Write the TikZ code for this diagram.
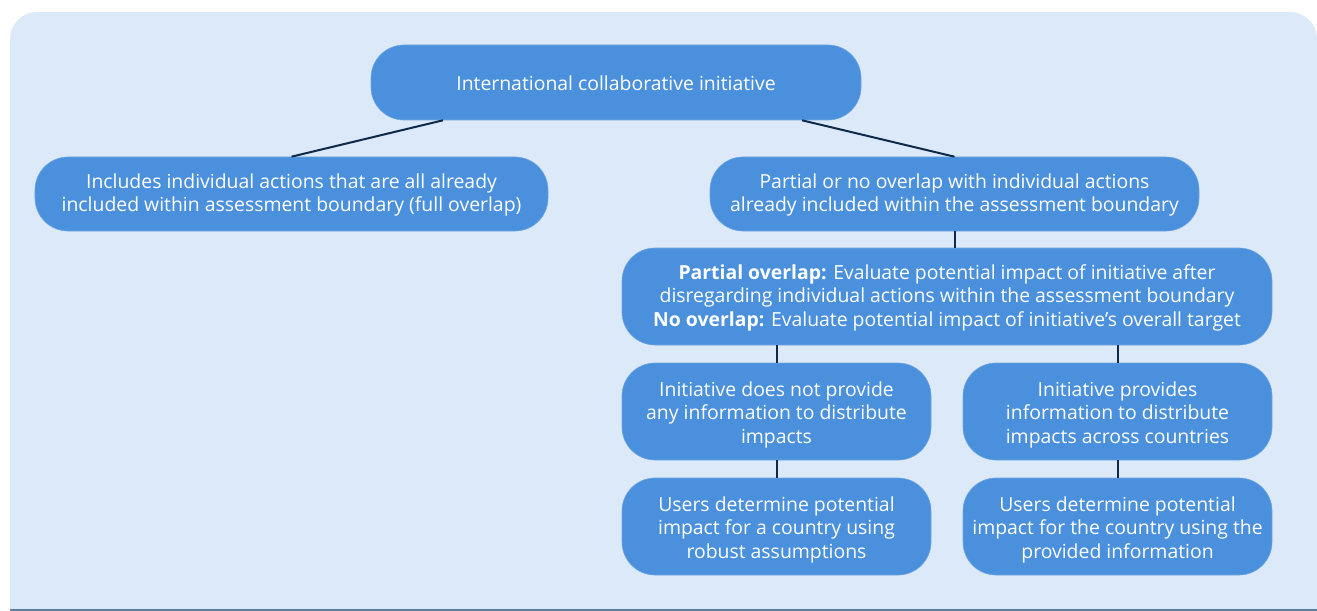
\documentclass[tikz,border=0pt]{standalone}
\usepackage{fontspec}
\setmainfont{Open Sans}
\usetikzlibrary{calc}
\definecolor{panel}{HTML}{DCE9F8}
\definecolor{boxfill}{HTML}{4A90DC}
\definecolor{boxedge}{HTML}{6FA6E4}
\definecolor{linkcol}{HTML}{0E2A4A}
\definecolor{rulecol}{HTML}{5B7FA5}
% invisible struts fixing the first-line height and last-line depth
\newcommand\topstrut[1]{\rule{0pt}{#1}}
\newcommand\botstrut{\rule[-4bp]{0pt}{4bp}}
\begin{document}
\begin{tikzpicture}[x=1bp,y=-1bp,
  stepbox/.style={fill=boxfill, draw=boxedge, line width=0.6bp,
    rounded corners=33bp, text=white, align=center, inner sep=0pt,
    font=\fontsize{19.4bp}{23.5bp}\selectfont},
  link/.style={draw=linkcol, line width=2bp}]
\useasboundingbox (0,0) rectangle (1317,611);
% panel with rounded top corners
\begin{scope}
  \clip (0,0) rectangle (1317,608.5);
  \fill[panel, rounded corners=27bp] (10,12) rectangle (1317,660);
\end{scope}
\draw[rulecol, line width=2bp] (10,609.5) -- (1317,609.5);

% nodes
\node[stepbox, minimum width=490bp, minimum height=75bp] (top) at (616,82.5)
  {\topstrut{20bp}International collaborative initiative\botstrut};
\node[stepbox, minimum width=513bp, minimum height=74bp] (full) at (291.5,194)
  {\topstrut{17bp}Includes individual actions that are all already\\included within assessment boundary (full overlap)\botstrut};
\node[stepbox, minimum width=489bp, minimum height=74bp] (part) at (954.5,194)
  {\topstrut{17bp}Partial or no overlap with individual actions\\already included within the assessment boundary\botstrut};
\node[stepbox, minimum width=650bp, minimum height=97bp] (eval) at (947,296.5)
  {\topstrut{17bp}\textbf{Partial overlap:} Evaluate potential impact of initiative after\\disregarding individual actions within the assessment boundary\\\textbf{No overlap:} Evaluate potential impact of initiative’s overall target\botstrut};
\node[stepbox, minimum width=309bp, minimum height=97bp] (noinfo) at (776.5,411.5)
  {\topstrut{21bp}Initiative does not provide\\any information to distribute\\impacts\botstrut};
\node[stepbox, minimum width=309bp, minimum height=97bp] (info) at (1117.5,411.5)
  {\topstrut{21bp}Initiative provides\\information to distribute\\impacts across countries\botstrut};
\node[stepbox, minimum width=309bp, minimum height=97bp] (robust) at (776.5,526.5)
  {\topstrut{21bp}Users determine potential\\impact for a country using\\robust assumptions\botstrut};
\node[stepbox, minimum width=309bp, minimum height=97bp] (provided) at (1117.5,526.5)
  {\topstrut{21bp}Users determine potential\\impact for the country using the\\provided information\botstrut};

% connectors
\draw[link] ($(top.south)+(-173,0)$) -- (full.north);
\draw[link] ($(top.south)+(186,0)$) -- (part.north);
\draw[link] (part.south) -- (part.south |- eval.north);
\draw[link] (eval.south -| noinfo.north) -- (noinfo.north);
\draw[link] (eval.south -| info.north) -- (info.north);
\draw[link] (noinfo.south) -- (robust.north);
\draw[link] (info.south) -- (provided.north);
\end{tikzpicture}
\end{document}
